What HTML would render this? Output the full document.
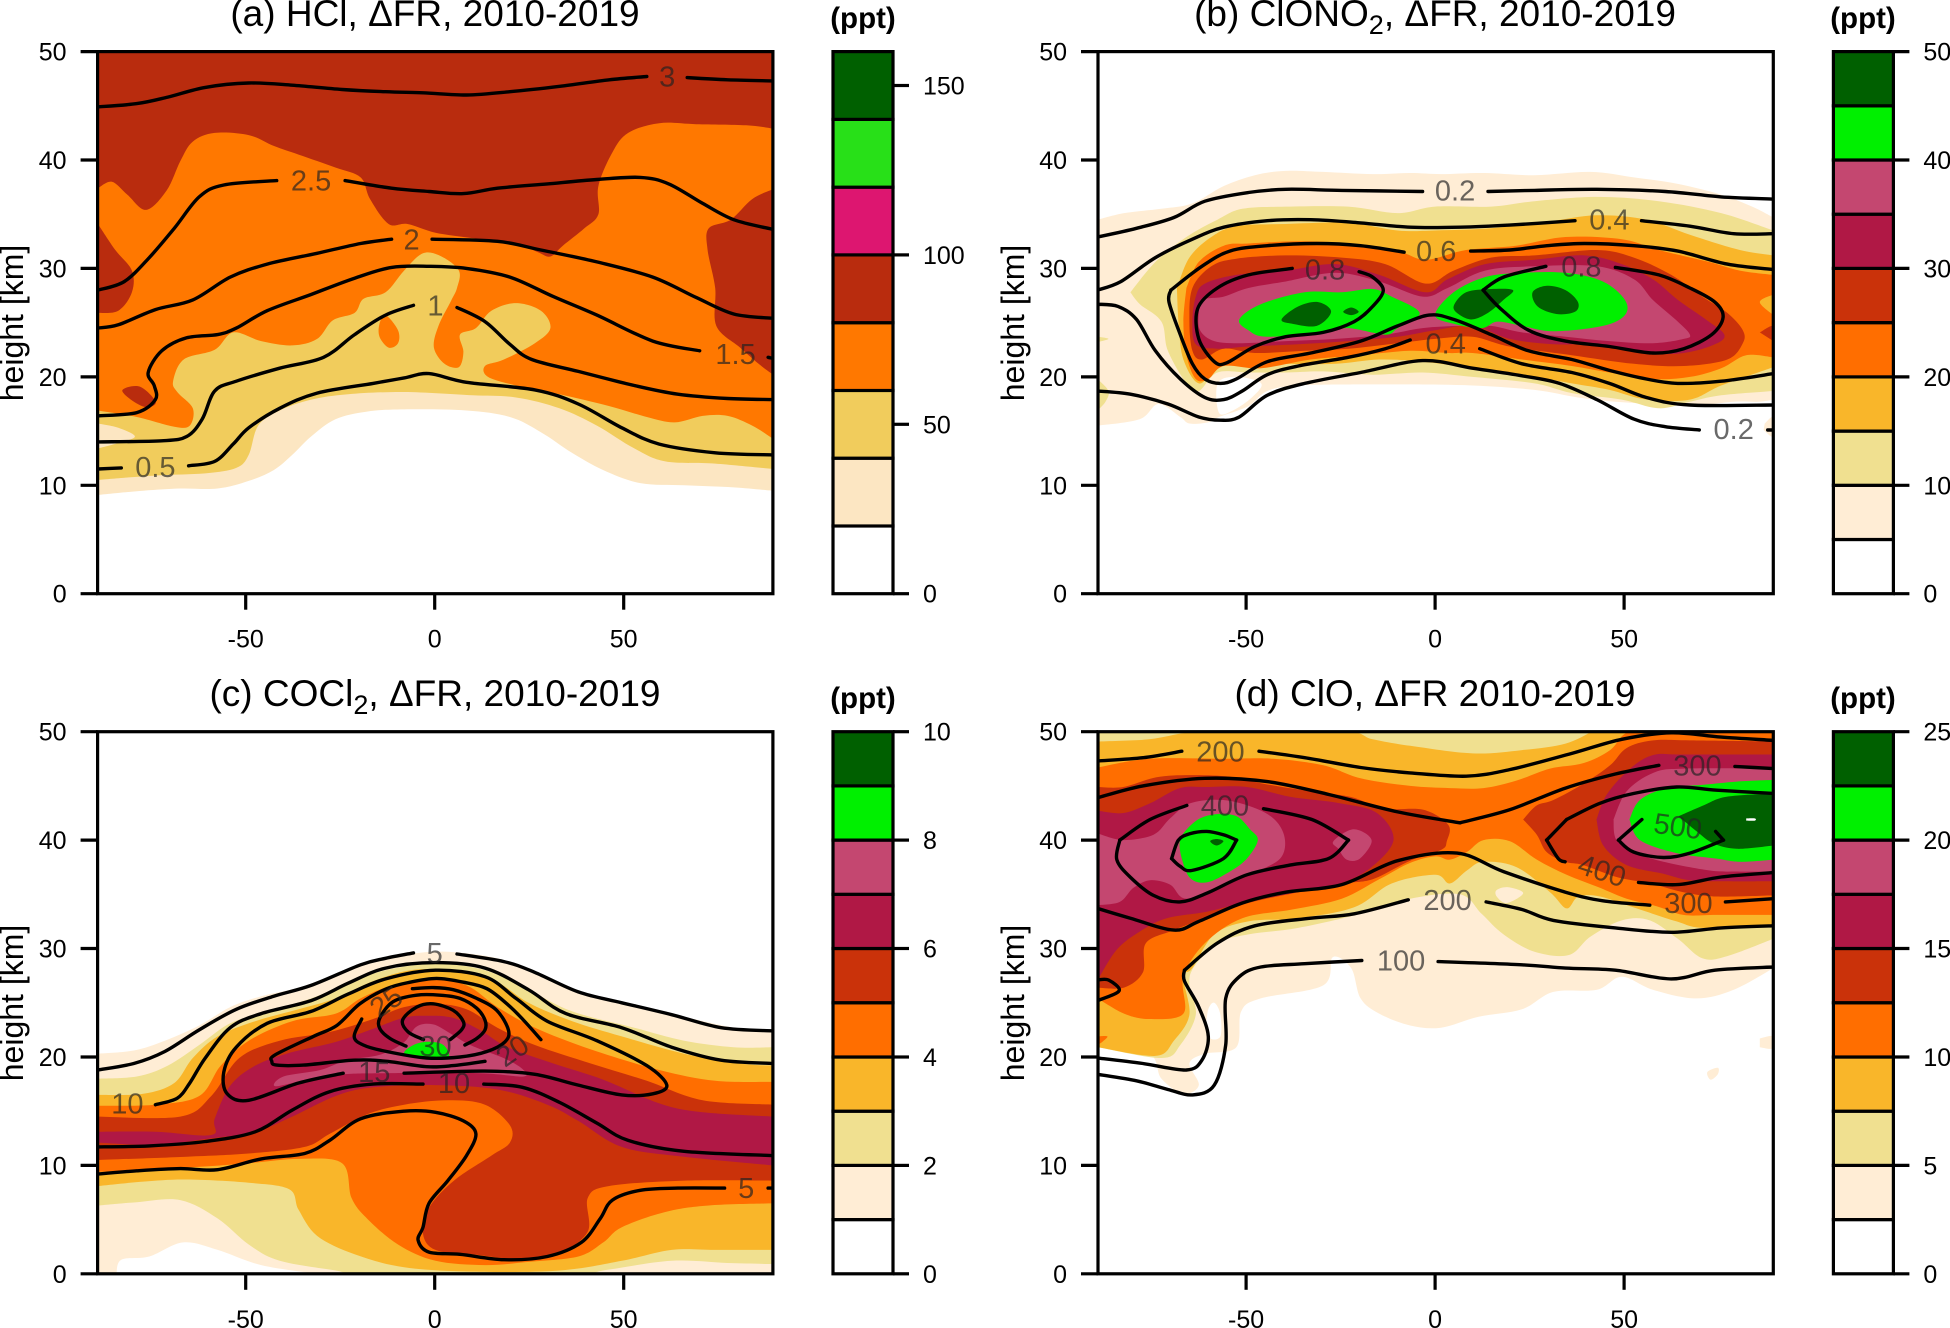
<!DOCTYPE html>
<html lang="en">
<head>
<meta charset="utf-8">
<title>Zonal mean cross-sections of HCl, ClONO2, COCl2 and ClO</title>
<style>
html,body{margin:0;padding:0;background:#fff;width:1950px;height:1328px;overflow:hidden}
svg{display:block}
text{font-family:"Liberation Sans",sans-serif;fill:#000}
.title{font-size:37px;text-anchor:middle}
.sub{font-size:27px}
.unit{font-size:29.5px;font-weight:bold;text-anchor:middle}
.ylab{font-size:32px;text-anchor:middle}
.tick{font-size:25px}
.clabel{font-size:29px;text-anchor:middle;dominant-baseline:central;fill:#222;fill-opacity:.68}
</style>
</head>
<body>
<svg id="chart" xmlns="http://www.w3.org/2000/svg" width="1950" height="1328" viewBox="0 0 1950 1328">
<rect width="1950" height="1328" fill="#fff"/>
<text class="title" x="435" y="26">(a) HCl, ΔFR, 2010-2019</text>
<text class="title" x="1435" y="26">(b) ClONO<tspan class="sub" dy="8">2</tspan><tspan dy="-8">, ΔFR, 2010-2019</tspan></text>
<text class="title" x="435" y="706">(c) COCl<tspan class="sub" dy="8">2</tspan><tspan dy="-8">, ΔFR, 2010-2019</tspan></text>
<text class="title" x="1435" y="706">(d) ClO, ΔFR 2010-2019</text>
<text class="unit" x="863" y="28">(ppt)</text>
<text class="unit" x="1863" y="28">(ppt)</text>
<text class="unit" x="863" y="708">(ppt)</text>
<text class="unit" x="1863" y="708">(ppt)</text>
<text class="ylab" transform="translate(23,323) rotate(-90)">height [km]</text>
<text class="ylab" transform="translate(1024,323) rotate(-90)">height [km]</text>
<text class="ylab" transform="translate(23,1003) rotate(-90)">height [km]</text>
<text class="ylab" transform="translate(1024,1003) rotate(-90)">height [km]</text>
</svg>
<script>
const latTicks=[-50,0,50];
const heightTicks=[0,10,20,30,40,50];

const levelsA=[0,20,40,60,80,100,120,140,160];
const levelsB=[0,5,10,15,20,25,30,35,40,45,50];
const levelsC=[0,1,2,3,4,5,6,7,8,9,10];
const levelsD=[0,2.5,5,7.5,10,12.5,15,17.5,20,22.5,25];
const colorTicksA=[0,50,100,150];
const colorTicksB=[0,10,20,30,40,50];
const colorTicksC=[0,2,4,6,8,10];
const colorTicksD=[0,5,10,15,20,25];
const coloursA=['#ffffff','#fce6c2','#f1cc5c','#ff7800','#b92c0e','#dd1670','#28e018','#006000'];
const coloursB=['#ffffff','#ffedd5','#f0e090','#f9b62a','#ff6e00','#ca320a','#b01845','#c44770','#00f000','#006000'];

/* ---------- Panel (a) HCl : [latitude, height] ---------- */
const aCream=[[-89.1,9.1],[-77.1,9.5],[-67.3,9.7],[-57.4,9.7],[-49.2,10.4],[-42.6,11.4],[-37.7,12.8],[-32.7,14.5],[-26.2,16.1],[-17.9,16.8],[-8.1,17],[8.4,16.9],[19.9,16.3],[28.1,14.9],[36.3,13],[44.6,11.4],[54.4,10.2],[66,10],[79.1,9.8],[89.5,9.5]];
const aYellow=[[-89.1,10.5],[-73.8,10.9],[-60.7,11.1],[-52.5,11.6],[-49.2,12.8],[-46.7,15.5],[-41,16.9],[-32.7,17.9],[-22.9,18.4],[-8.1,18.6],[10,18.3],[21.5,18.1],[33,17.1],[42.9,15.5],[52.8,13.4],[61,12.2],[74.2,12],[89.5,11.5]];
const aCreamBlob=[[-89.1,15.7],[-83.7,15.3],[-79.3,14.5],[-83.7,13.9],[-89.1,13.4]];
const aOrange=[[-89.1,16.9],[-78.8,16.3],[-68.9,15.4],[-64.8,15.5],[-64,17.1],[-68.1,18.6],[-69.2,19.6],[-66.4,21.6],[-58.2,22.5],[-53.3,24.1],[-45.9,23.3],[-37.7,22.9],[-31.1,23.5],[-27,25.2],[-21.2,25.9],[-18.8,27.2],[-13,27.8],[-8.1,29.8],[-3.1,31.4],[1.8,31.1],[6.4,29.8],[5.9,28.2],[4.3,27],[1,24.7],[-0.2,22.7],[2.6,21.2],[6.4,20.9],[7.6,22.3],[6.7,23.9],[10.9,24.5],[15,26.1],[21.5,26.8],[28.1,26.1],[30.6,24.5],[26.5,23.1],[18.3,21.6],[13.3,21],[14.1,20],[21.5,19.2],[33,18.4],[46.2,17.3],[56.1,16.3],[63.5,15.8],[70.9,16.4],[77.5,16.4],[84,15.5],[89.5,14.3]];
const aOrangePocket=[[-13,25.7],[-9.7,24.3],[-9.7,23.1],[-12.2,22.7],[-14.6,23.7],[-14.6,24.9]];
const aRedTop=[[-89.1,37.4],[-85.4,38],[-81.3,36.8],[-76.3,35.4],[-70.9,37.2],[-67.3,39.9],[-64,41.7],[-58.2,42.5],[-49.2,42.3],[-42.6,41.3],[-36,40.5],[-26.2,39.3],[-19.6,38.4],[-17.1,36.4],[-12.2,34.1],[-7.2,34.1],[0.2,33.3],[10,32.8],[21.5,32.3],[27.3,31.5],[30.6,31.1],[33.9,32.1],[39.6,33.7],[43.3,35],[43.3,37.6],[47,40.7],[51.2,42.5],[59.4,43.4],[69.2,43.3],[82.4,43.2],[89.5,42.9]];
const aRedRight=[[89.5,37.3],[84,36.4],[78.3,34.5],[72.5,33.7],[72.2,31.7],[74.2,28.2],[74.5,24.7],[80.8,22.7],[85.7,21.2],[89.5,20.2]];
const aRedLeft=[[-89.1,34.1],[-84.5,31.7],[-80.1,29.8],[-80.1,27.8],[-83.7,26.1],[-89.1,25.9]];
const aRedBlob=[[-82.6,18.8],[-78,19.1],[-73.8,17.7],[-76.3,17.2],[-80.4,17.9]];

const aLine3=[[[-89.1,44.9],[-78.8,45.2],[-70.6,45.8],[-60.7,46.7],[-49.2,47.1],[-37.7,46.9],[-24.5,46.5],[-13,46.3],[-3.1,46.2],[8.4,46],[19.9,46.3],[33.1,46.8],[46.2,47.4],[56.1,47.7]],[[66.8,47.6],[77.5,47.4],[89.5,47.3]]];
const aLine25=[[[-89.1,28],[-82.1,28.8],[-75.5,31],[-68.9,33.7],[-62.3,36.6],[-55.8,37.7],[-41.8,38.1]],[[-23.7,38.1],[-11.4,37.4],[-1.5,37.1],[7.6,36.9],[16.6,37.4],[29.8,37.8],[42.9,38.2],[54.4,38.4],[61.9,37.8],[70.9,36],[79.1,34.5],[89.5,33.6]]];
const aLine2=[[[-89.1,24.5],[-83.7,24.8],[-73.9,26.2],[-64,27.1],[-54.1,29.2],[-44.3,30.4],[-31.1,31.4],[-19.6,32.3],[-11.4,32.7]],[[-0.7,32.7],[16.6,32.5],[28.1,31.7],[42.9,30.6],[57.7,29.2],[69.3,27.3],[79.1,25.8],[89.5,25.4]]];
const aLine15=[[[-89.1,16.4],[-78.8,16.7],[-73.9,17.9],[-74.2,19.2],[-75.8,20.4],[-72.2,22.4],[-65.6,23.6],[-57.4,23.9],[-52.5,24.5],[-44.3,26.1],[-32.7,27.6],[-21.2,29.1],[-11.4,30.1],[-1.5,30.2],[8.4,30],[19.9,29.2],[31.4,27.4],[42.9,25.7],[57.7,23.3],[70.1,22.4]],[[88.2,21.8],[89.5,21.7]]];
const aLine1=[[[-89.1,14],[-72.2,14.1],[-65.6,14.5],[-61.5,16.1],[-58.2,18.7],[-52.5,19.6],[-41,20.8],[-29.4,21.8],[-21.2,23.9],[-13,25.7],[-5.6,26.6]],[[5.9,26.4],[13.3,25.1],[19.9,23],[25.7,21.6],[38,20.5],[52.8,19.2],[64.3,18.4],[77.5,18],[89.5,17.9]]];
const aLine05=[[[-89.1,11.5],[-82.9,11.6]],[[-65.1,11.8],[-58.2,12.2],[-53.3,13.8],[-49.2,15.3],[-41,17.1],[-31.1,18.5],[-16.3,19.4],[-8.1,19.9],[-1.5,20.3],[8.4,19.5],[26.5,18.8],[38,17.5],[49.5,15.3],[59.4,13.8],[74.2,13],[89.5,12.8]]];
const aContourText=['3','2.5','2','1.5','1','0.5'];
const aContourLat=[61.5,-32.7,-6.1,79.6,0.2,-73.9];
const aContourHeight=[47.6,38,32.6,22,26.5,11.6];

/* ---------- Panel (b) ClONO2 ---------- */
const bCreamUp=[[-89.3,34.5],[-82.3,35.1],[-72.4,35.5],[-64.2,36],[-55.9,37.6],[-47.7,38.6],[-39.5,39],[-29.6,38.9],[-16.5,38.7],[-6.6,38.8],[1.6,38.7],[13.2,38.8],[26.3,38.6],[41.1,38.9],[52.6,38.4],[64.2,37.8],[75.7,36.8],[83.9,35.7],[89.5,34.7]];
const bCreamLow=[[-89.3,15.5],[-78.1,16.1],[-73.2,17.5],[-67.4,16.3],[-65,15.7],[-60,15.8],[-57.2,16.3],[-49.4,17.3],[-44.4,18.7],[-36.2,19.2],[-19.7,19.3],[-6.6,19.3],[9.9,19.2],[26.3,18.8],[37.8,18.1],[47.7,17.7],[57.6,17.5],[67.4,17.3],[79,17.7],[85.5,17.7],[89.5,17.9]];
const bCreamCorner=[[87.2,15.7],[89.5,16.3],[89.5,14.5],[86.9,15.1]];
const bWhiteGap=[[-57.2,16.7],[-57.5,19.4],[-52.6,20],[-46,19.4],[-48.5,18.1],[-53.5,16.9]];
const bKhakiUp=[[-80.6,27.8],[-74,30.6],[-65.8,32.9],[-57.6,34.5],[-51,35.5],[-39.5,35.7],[-23,35.7],[-9.9,35.1],[0,35.7],[14.8,35.7],[26.3,36.2],[42.8,36.6],[59.2,36.2],[75.7,35.1],[89.5,33.5]];
const bKhakiLow=[[-80.6,27.8],[-78.1,26.7],[-72.4,25.1],[-70.7,22.4],[-65.8,19.4],[-62.5,18.7],[-57.6,20.4],[-49.4,20.4],[-39.5,20.4],[-29.6,20.5],[-16.5,20.2],[-3.3,20.4],[9.9,20],[26.3,19.4],[36.2,18.5],[49.4,17.9],[59.2,17.1],[67.4,17.7],[75.7,18.3],[89.5,18.7]];
const bKhakiLeft=[[-89.3,19.8],[-86.4,18.7],[-87.2,17.7],[-89.3,16.9]];
const bKhakiDot=[[-89.3,23.7],[-86.4,23.5],[-89.3,23.2]];
const bAmberUp=[[-68.3,28.2],[-65,31],[-59.2,32.9],[-52.6,33.9],[-39.5,34.1],[-23,34.2],[-9.9,33.5],[0,33.5],[14.8,33.7],[29.6,34.3],[42.8,34.9],[55.9,34.5],[67.4,33.1],[80.6,31.7],[89.5,31.2]];
const bAmberLow=[[-68.3,28.2],[-67.8,24.7],[-66.6,21.6],[-62.5,19.4],[-57.6,20.8],[-51,21.4],[-39.5,21.2],[-26.3,21.2],[-14.8,21.6],[-3.3,21.4],[9.9,20.8],[23,20.2],[36.2,19.4],[46.1,18.8],[55.9,17.9],[67.4,17.9],[75.7,19.2],[89.5,20.9]];
const bOrangeUp=[[-65.8,28.2],[-62.5,30.6],[-55.9,32.1],[-49.4,32.3],[-36.2,32.5],[-23,32.3],[-9.9,31.6],[-2.5,30.8],[8.2,31.7],[21.4,32.1],[34.5,32.9],[49.4,32.7],[59.2,31.7],[72.4,30.6],[80.6,29.8],[89.5,29.4]];
const bOrangeLow=[[-65.8,28.2],[-66.6,25.1],[-65.8,22],[-63.3,19.8],[-60,19.8],[-55.9,21],[-46,20.8],[-32.9,21.6],[-19.7,22],[-6.6,22.4],[3.3,22.2],[9.9,22.2],[23,21.6],[36.2,21],[46.1,20.4],[57.6,19.8],[67.4,20],[75.7,20.8],[82.3,22],[89.5,21.8]];
const bAmberRight=[[89.5,27.6],[85.9,26.9],[89.5,25.7]];
const bRustRight=[[85.9,24.1],[89.5,24.7],[89.5,23.3]];
const bRust=[[-59.2,30.2],[-52.6,30.9],[-39.5,31.2],[-24.7,31],[-13.2,30.4],[-2.5,28.6],[4.9,29.8],[14.8,31],[26.3,31.2],[42.8,31.7],[52.6,31],[62.5,29.4],[70.7,27.4],[77.3,25.9],[81.4,24.3],[81.4,23.1],[77.3,21.6],[65.8,21],[52.6,21.2],[36.2,22],[19.7,22.8],[9.9,23.7],[0,23.5],[-9.9,23.1],[-23,22.6],[-34.5,22.4],[-47.7,22.2],[-55.9,22.6],[-61.7,21.6],[-64.2,22.4],[-65,25.1],[-64.2,28.2]];
const bCrimson=[[-60.9,28.6],[-52.6,29.4],[-39.5,29.8],[-26.3,30.4],[-14.8,29.4],[-2.5,27.8],[3.3,29],[13.2,30.4],[26.3,30.8],[39.5,31.2],[49.4,30.4],[57.6,29],[64.2,27.1],[71.6,25.3],[76.5,23.9],[74,23],[65.8,22.2],[55.9,22.2],[42.8,23],[31.3,23],[19.7,23.5],[9.9,24.7],[0,24.3],[-9.9,23.7],[-23,23.3],[-36.2,23],[-49.4,22.8],[-57.6,22.6],[-63.3,23],[-64.2,25.1],[-63.3,27.4]];
const bPink=[[-61.7,27.1],[-55.9,27.4],[-49.4,28.2],[-39.5,28.8],[-26.3,29.6],[-14.8,28.8],[-3.3,27.4],[3.3,28.2],[13.2,29.8],[26.3,30.2],[42.8,30.2],[52.6,29],[57.6,27.1],[64.2,25.1],[67.4,23.9],[65.8,23.5],[57.6,23.1],[46.1,23.3],[34.5,23.7],[23,24.1],[14.8,24.7],[6.6,24.7],[-3.3,24.5],[-13.2,23.9],[-26.3,23.5],[-39.5,23.3],[-51,23.1],[-58.4,23.3],[-62.2,24.3],[-62.5,25.9]];
const bGreenLeft=[[-51.8,25.3],[-46.1,26.7],[-34.5,27.8],[-24.7,27.8],[-16.5,28.1],[-11.5,27.4],[-4.1,25.9],[-9.9,24.5],[-13.2,23.9],[-23,24.5],[-29.6,24.1],[-44.4,23.7],[-49.4,24.3]];
const bGreenRight=[[0,25.7],[4.9,27.8],[13.2,29.2],[23,29.6],[34.5,29.6],[44.4,28.8],[50.2,27.1],[50.2,25.7],[44.4,24.7],[31.3,24.2],[23,24.7],[16.5,25.1],[12.3,24.5],[4.9,24.9]];
const bDarkLeft=[[-40.6,25.3],[-36.2,26.5],[-30.9,26.9],[-27.5,26],[-31.3,24.7],[-37.8,24.9]];
const bDarkTiny=[[-24.3,26],[-22.2,26.4],[-20.2,26],[-22.2,25.7]];
const bDarkMid=[[4.9,26.5],[8.2,27.8],[14.8,28.1],[20.6,28],[18.1,27.1],[14,25.9],[9.9,25.3],[6.6,25.7]];
const bDarkRight=[[25.8,27.8],[29.6,28.4],[34.5,28],[37.8,26.9],[37,26],[32.1,25.8],[27.1,26.5]];

const bLine02Top=[[[-89.3,32.9],[-79,33.7],[-69.1,34.7],[-60.9,36.2],[-49.4,37],[-39.5,37.3],[-24.7,37.2],[-3.3,37.1]],[[14,37.1],[26.3,37.2],[42.8,37.3],[60.9,37.1],[75.7,36.6],[89.5,36.4]]];
const bLine04Top=[[[-89.3,28],[-83.1,28.8],[-74,31],[-64.2,32.7],[-55.9,33.8],[-44.4,34.4],[-32.9,34.5],[-19.7,34.2],[-6.6,33.8],[6.6,33.8],[19.7,34],[37,34.4]],[[54.6,34.4],[67.4,33.9],[79,33.2],[89.5,33.2]]];
const bLine06=[[[-8.2,31.5],[-19.7,32.1],[-31.3,32.3],[-44.4,32.1],[-54.3,31.6],[-61.7,30.2],[-69.9,28]],[[-69.9,28],[-70.4,26.9],[-67.4,23.9],[-64.2,21.2],[-60.9,19.8],[-56.8,19.4],[-52.6,19.8],[-44.4,21.4],[-32.9,22.2],[-19.7,23.3],[-9.9,24.7],[-1.6,25.7],[4.9,25.3],[14.8,23.9],[24.7,22.4],[36.2,21.6],[46.1,20.6],[55.9,19.8],[64.2,19.4],[75.7,19.6],[89.5,20.3]],[[9.4,31.6],[19.7,31.7],[29.6,32.1],[39.5,32.3],[52.6,32.1],[64.2,31.6],[77.3,30.4],[89.5,29.9]]];
const bLine04Low=[[[-89.3,26.7],[-83.9,26.5],[-79,25.3],[-74,22.4],[-67.4,19.8],[-60.9,18.1],[-55.9,17.9],[-51,18.7],[-44.4,20.2],[-36.2,21],[-23,21.8],[-13.2,22.6],[-6.6,23.4]],[[11.8,22.6],[23,21.2],[36.2,20.4],[46.1,19.4],[55.9,18.1],[67.4,17.4],[89.5,17.4]]];
const bLine02Low=[[[-89.3,18.7],[-80.6,18.4],[-70.7,17.5],[-62.5,16.3],[-56.8,16],[-51.8,16.3],[-44.4,18.3],[-34.5,19.4],[-19.7,20.4],[-3.3,21.5],[9.9,20.8],[23,20.1],[32.9,19.4],[42.8,17.9],[52.6,16.1],[60.9,15.4],[69.9,15.1]],[[88,15.1],[89.5,15.1]]];
const bLine08Left=[[[-37.8,30],[-49.4,29.4],[-57.6,28.2],[-62.8,26.3],[-62.5,23.5],[-58.4,21.4],[-55.1,21.3],[-47.7,22.8],[-39.5,23.7],[-29.6,24.1],[-21.4,25.1],[-16.5,26.5],[-13.7,28],[-16.5,29.2],[-20.1,29.7]]];
const bLine08Right=[[[29.3,30.2],[18.1,29.2],[12.7,28]],[[12.7,28],[17.3,26.3],[24.7,24.3],[34.5,23.3],[46.1,22.8],[57.6,22.2],[65.8,22.6],[73.2,23.9],[76.2,25.5],[74,26.9],[67.4,28.2],[59.2,29.4],[47.7,30.1]]];
const bContourText=['0.2','0.4','0.6','0.4','0.2','0.8','0.8'];
const bContourLat=[5.3,46.1,0.3,2.8,79,-29.1,38.7];
const bContourHeight=[37.1,34.4,31.5,23,15.1,29.8,30.1];

/* ---------- Panel (c) COCl2 ---------- */
const cCream=[[-89.1,20.3],[-79.6,20.6],[-71.4,21.5],[-62.3,22.9],[-54.1,24.6],[-45.9,25.6],[-36,26.4],[-26.2,27.6],[-16.3,28.7],[-6.4,29.5],[3.5,29.7],[16.6,29.1],[26.5,27.8],[36.4,26.2],[49.5,25],[66,23.7],[79.1,22.7],[89.5,22.3]];
const cWhitePatch=[[-84.2,0],[-82.9,1.3],[-75.5,1.6],[-66.5,2.9],[-57.4,2.2],[-45.9,0.8],[-31.1,0]];
const cKhakiUp=[[-89.1,18],[-78.8,18.2],[-70.6,19.2],[-62.3,21.1],[-54.1,23.1],[-44.3,24.2],[-32.7,25.4],[-22.9,26.8],[-13,28],[0.2,28.6],[13.3,28],[24.8,26.2],[36.4,24.2],[52.8,22.7],[66,21.5],[79.1,20.9],[89.5,20.9]];
const cKhakiLow=[[-89.1,6.3],[-78.8,6.6],[-67.3,6.8],[-57.4,5.1],[-49.2,2.7],[-41,1.2],[-26.2,0.3],[-16.3,-0.2],[33,-0.2],[46.2,0.4],[62.7,1.2],[77.5,1],[89.5,0.9]];
const cAmberUp=[[-89.1,16.5],[-77.1,16.6],[-68.9,17.6],[-64,19.9],[-57.4,21.9],[-47.5,23.3],[-36,24.4],[-26.2,25.4],[-16.3,27],[-6.4,28],[3.5,28],[15,27.2],[24.8,25],[36.4,23.3],[49.5,21.9],[66,20.3],[80.8,19.4],[89.5,19.2]];
const cAmberLow=[[-89.1,8.1],[-77.1,8.5],[-65.6,8.7],[-49.2,8.4],[-38.5,7.8],[-36,5.9],[-31.1,3.5],[-21.2,1.8],[-8.1,0.6],[10,0.2],[33.1,0.3],[49.5,1.2],[62.7,2.2],[74.2,2.2],[89.5,2.2]];
const cOrangeUp=[[-89.1,15.5],[-73.9,15.6],[-62.3,16.4],[-56.6,19.2],[-49.2,21.5],[-37.7,23.3],[-26.2,24],[-19.6,25.4],[-11.4,26.6],[-1.5,27.2],[8.4,26.6],[16.6,24.6],[26.5,22.7],[41.3,20.7],[59.4,18.8],[74.2,17.8],[89.5,17.7]];
const cOrangeLow=[[-89.1,9.4],[-65.6,9.8],[-49.2,10.2],[-36,10.6],[-24.5,10.2],[-22,7],[-17.9,5.1],[-9.7,2.7],[0.2,1.2],[13.3,0.8],[24.8,1.1],[38,1.6],[44.6,2.9],[49.5,4.3],[61,5.7],[72.5,6.3],[89.5,6.5]];
const cRustUp=[[-89.1,14.5],[-67.3,14.5],[-59.1,16.4],[-51.7,19.9],[-41,21.5],[-27.8,22.3],[-16.3,23.5],[-8.1,24.6],[0.2,24.9],[8.4,24.4],[16.6,22.7],[26.5,21.1],[41.3,19.4],[56.1,17.8],[70.9,16],[89.5,15.6]];
const cRustLow=[[-89.1,10.5],[-65.6,10.8],[-49.2,11.1],[-34.4,11.7],[-27.8,12.9],[-17.9,14.7],[-8.1,15.6],[3.5,16],[13.3,15.6],[19.9,13.7],[19.9,12.1],[15,10.9],[5.1,8.6],[-1.5,6.1],[-3.1,3.7],[0.2,2.2],[10,1.8],[21.5,1.4],[33.1,2],[40.5,3.9],[40.5,7],[46.2,8.1],[66,8.6],[89.5,8.6]];
const cCrimsonUp=[[-89.1,13.1],[-73.9,13.1],[-59.1,12.8],[-58.2,14.3],[-54.2,17.3],[-48,19.1],[-39.2,20.3],[-26,21.4],[-17.1,22.5],[-8.3,23.6],[-2.1,23.8],[4.9,23.6],[11.9,22.5],[19.1,20.95],[31.4,19.4],[44.6,17.9],[59.6,15.7],[70.9,14.9],[89.5,14.5]];
const cCrimsonLow=[[-89.1,12.1],[-73.9,11.9],[-59.1,12.5],[-47.5,13.1],[-37.7,14.5],[-26.2,16.4],[-16.3,17.2],[0.2,17.4],[16.6,17],[29.8,15.6],[38,14.1],[49.5,11.7],[66,10.8],[89.5,10]];
const cPink=[[-42.2,17.3],[-40,18.2],[-30.3,18.8],[-23.3,19.7],[-14.5,20.2],[-8.3,21.3],[-4.8,22.8],[-0.4,23],[4,22.2],[9.4,21.1],[18.2,19.9],[23,18.95],[23.5,18.2],[12,18.5],[-12.7,18.5],[-24.2,18.4],[-33.9,17.9]];
const cGreen=[[-8,20.3],[-5.6,21.1],[-1.7,21.4],[2.3,21.1],[3.6,20],[-2.1,19.9]];

const cLine5Top=[[[-89.1,18.8],[-79.6,19.4],[-71.4,20.5],[-62.3,22.5],[-52.5,24.4],[-42.6,25.6],[-32.7,26.6],[-19.6,28.5],[-13,29.1],[-5.6,29.6]],[[5.9,29.5],[18.3,28.8],[26.5,27.8],[38,26],[49.5,25],[62.7,23.9],[75.8,22.7],[89.5,22.4]]];
const cLine10Top=[[[-73.9,15.6],[-68.1,16.2],[-64.8,17.6],[-60.7,19.9],[-54.1,22.7],[-45.9,24],[-32.7,25.2],[-22.9,26.8],[-13,28.2],[0.2,28.7],[13.3,28.2],[24.8,26.2],[34.7,24],[49.5,22.7],[62.7,20.9],[75.8,19.7],[89.5,19.4]]];
const cLine15=[[[-24.2,18.5],[-36,17.6],[-49.2,16],[-54.9,16.6],[-55.8,18.6],[-52.5,20.9],[-44.3,23.1],[-32.7,24.2],[-22.9,25.8],[-13,27.2],[0.2,28],[13.3,27.4],[21.5,25.4],[29.8,23.3],[42.9,21.5],[56.1,19.2],[61.4,17.4],[57.7,16.6],[49.5,16.5],[38,17.4],[26.5,18.4],[13.3,18.7],[-8.1,18.5]]];
const cLine20=[[[13.3,19.6],[4.9,19.2],[-2.1,19.1],[-12.7,19.6],[-21.5,19.7],[-34.7,19.25],[-41.8,19.25],[-43.1,19.6],[-42.2,20.2],[-32.1,21.9],[-25.9,22.9],[-19.8,24.9],[-12.7,26.3],[-6.5,26.9],[0.5,27.25],[7.6,26.9],[13.8,26.3],[19.1,24.9],[23.5,23.4],[28.1,21.6]]];
const cLine25=[[[-19.3,23.5],[-21.3,21.9],[-18.9,21.1],[-12.7,20.5],[-2.1,19.9],[6.7,20],[13.8,20.5],[18.6,21.4],[19.5,22.5],[16.4,24.3],[11.1,25.4],[4.9,26.2],[-0.4,26.4],[-5.9,26.3]]];
const cLine30=[[[-7.6,21],[-11.8,21.7],[-14.5,22.6],[-14.5,23.6],[-11,25.1],[-4.8,25.7],[1.4,25.7],[6.7,25.4],[11.1,24.5],[13.3,23.4],[13.3,22.5],[11.1,21.7],[8,21.1]]];
const cLine35=[[[-3,21.6],[-7,22.3],[-8.5,23.4],[-4.8,24.6],[-0.4,24.9],[4.9,24.3],[7.6,23.25],[7.1,22.5],[4.1,21.6]]];
const cLine10Low=[[[-89.1,11.7],[-75.5,11.8],[-60.7,12.2],[-47.5,13.1],[-37.7,15.1],[-27.8,16.8],[-16.3,17.5],[-3.1,17.5]],[[13,17.5],[23.2,17.2],[33.1,15.8],[42.9,13.9],[51.2,12.3],[66,11.3],[89.5,10.9]]];
const cLine5Low=[[[-89.1,9.2],[-78.8,9.5],[-67.3,9.7],[-57.4,9.6],[-45.9,10.6],[-34.4,11.1],[-27.8,12.3],[-19.6,14.3],[-8.1,15],[0.2,14.9],[7.6,14.1],[10.9,12.9],[8.4,10.9],[3.5,8.6],[-1.5,6.5],[-3.1,4.3],[-4.4,3.1],[-1.5,2],[6.7,1.8],[18.3,1.3],[29.8,1.6],[38.8,2.9],[43.8,5.1],[47,6.8],[54.4,7.7],[64.3,7.9],[76.7,7.9]],[[88.2,7.9],[89.5,7.9]]];
const cContourText=['5','10','25','30','20','15','10','5'];
const cContourLat=[0,-81.3,-12.7,0.2,20.7,-16,5.1,82.4];
const cContourHeight=[29.5,15.6,25,20.9,20.5,18.5,17.5,7.8];
const cContourTilt=[0,0,-35,0,-35,0,0,0];

/* ---------- Panel (d) ClO ---------- */
const dCream=[[-89.3,20.9],[-75.7,20.3],[-72.4,18],[-66.6,16.6],[-62.5,17.4],[-65,19.4],[-60.9,20.3],[-52.6,20.9],[-51.3,24.2],[-46.1,25.4],[-29.6,26.6],[-27.1,29.2],[-22.2,28.2],[-19.7,25.4],[-14.8,24],[-6.6,22.9],[1.6,22.7],[11.5,23.7],[23,24.4],[31.3,26],[42.8,26.2],[49.4,27.4],[57.6,26.2],[69.1,25.4],[79,26.2],[89.5,28.2]];
const dCreamBlobRight=[[85.9,21.7],[89.5,21.9],[89.5,20.8],[85.9,20.9]];
const dCreamBlobMid=[[72,18.6],[74.8,19],[74.8,18.4],[72.9,17.9]];
const dWhiteHole=[[-60.5,22.7],[-60,24.4],[-58.4,25],[-56.8,23.9],[-56.8,21.9],[-59.5,21.7]];
const dKhaki=[[-89.3,20.9],[-72.4,19.9],[-67.4,21.1],[-63.3,23.9],[-65,26.6],[-63.8,28.3],[-57.6,30.5],[-49.4,31.3],[-36.2,31.9],[-19.7,33.2],[-6.6,34.6],[6.6,35],[12.3,33.2],[18.1,31.3],[26.3,29.7],[35.4,29.4],[41.1,31.1],[49.4,32.6],[56.8,32.6],[64.2,30.9],[70.7,29.1],[77.3,29.3],[89.5,30.9]];
const dCreamNotch=[[16.3,35.4],[19.4,35.65],[23.3,35.1],[18.9,34.2],[16.3,34.8]];
const dAmber=[[-89.3,20.9],[-74,20.1],[-69.1,21.5],[-65,23.9],[-66.6,27.4],[-64.2,28.2],[-58.4,31.3],[-49.4,32.5],[-36.2,32.8],[-21.4,33.8],[-11.5,36],[0,36.8],[3.9,36],[8.4,37.2],[12.8,38],[21.6,37.5],[30.4,35.2],[34.8,33.7],[37.9,34.8],[43.6,34.8],[53.3,33.7],[63.9,32.5],[71,31.9],[89.6,32]];
const dKhakiTop=[[-89.3,49.1],[-75.7,49.3],[-65.8,49.9],[-55.9,50.1],[-24.7,50.1],[-16.5,49.3],[-6.6,48.7],[9.9,48],[23,48.3],[34.5,48.9],[41.9,50.1]];
const dOrangeUp=[[-89.3,46.7],[-75.7,47.5],[-55.9,47.5],[-42.8,47.5],[-29.6,46.9],[-19.7,45.7],[-6.6,45],[3.9,44.8],[12.8,44.8],[21.6,45.5],[30.4,46.6],[39.2,47.1],[46.3,48.3],[50.7,49.9],[59.2,50.4],[89.6,50.4]];
const dOrangeLow=[[-89.3,25.4],[-82.3,24],[-75.7,23.5],[-66.6,24],[-66.6,27.4],[-60.9,30.5],[-51,32.8],[-37.8,33.6],[-24.7,34.6],[-14.8,36.4],[-6.6,37.9],[0,38.5],[3.9,38.2],[8.4,38.9],[12.8,40],[19.8,39.9],[26.9,38.2],[34.8,36.8],[43.6,35.6],[50.7,34.6],[58.6,33.9],[65.7,33.1],[74.5,33.1],[89.6,33.1]];
const dOrangeSmall=[[-89.3,21.9],[-86.7,21.9],[-88,21.4],[-89.3,21.1]];
const dRustLeft=[[-89.3,44.9],[-82.5,44.9],[-73.7,45.8],[-64.8,46],[-54.3,45.85],[-45.4,45.2],[-34.9,44.6],[-22.5,44],[-13.7,42.9],[-3.1,42.8],[3.5,41.4],[3.1,39.9],[1.6,39.1],[-6.6,38.1],[-16.5,36.4],[-24.7,36],[-36.2,35.2],[-49.4,34.2],[-57.6,33.2],[-69.1,31.7],[-76.5,30.5],[-77.3,27.8],[-82.3,26.4],[-89.3,26.4]];
const dRustRightUp=[[23.3,41.9],[26.9,43.2],[31.3,43.7],[39.2,45.2],[46.3,46.9],[50.7,48.5],[57.7,49.2],[67.4,49.2],[89.6,49.1]];
const dRustRightLow=[[23.3,41.9],[26.9,40.5],[29.5,38.9],[34.4,38],[39.2,37.7],[48,36.6],[56.9,36],[65.7,35.2],[74.5,34.8],[89.6,34.9]];
const dOrangeWedge=[[-89.3,26.2],[-84.7,26.1],[-89.3,25.2]];
const dCrimsonLeft=[[-89.1,42.7],[-82.5,42.5],[-75.4,43.4],[-67.5,44.8],[-60.4,44.9],[-49.8,44.9],[-38.4,44],[-25.2,43.4],[-15.4,42.5],[-11,40],[-17.2,37.4],[-25.2,36],[-36.6,35.2],[-49.8,34.3],[-60.4,33.4],[-71,32.8],[-78,31.6],[-84.2,29.9],[-89.1,27.2]];
const dCrimsonRightUp=[[42.7,41.9],[45.4,44.2],[51.6,46.6],[57.7,47.85],[65.7,47.9],[89.6,47.9]];
const dCrimsonRightLow=[[42.7,41.9],[44.5,39.5],[50.7,37.7],[60.4,36.9],[67.4,36.3],[77.1,36.2],[89.6,36.2]];
const dPinkLeft=[[-89.1,40.6],[-82.5,40],[-74.5,40.5],[-70.1,42],[-64.8,43.4],[-56,43.7],[-47.2,42.9],[-41.9,41.7],[-39.7,40],[-41,38.3],[-47.2,37.1],[-55.1,36],[-65.7,34.6],[-70.1,35.9],[-75.4,36.3],[-79.8,35.6],[-83.4,34.3],[-89.1,34]];
const dPinkLobe=[[-26.9,39.9],[-21.6,41],[-16.8,40],[-19.9,38.3],[-23.4,38.2],[-25.6,39.2]];
const dPinkRightUp=[[47.2,41.9],[50.7,44.5],[57.7,46.2],[65.7,46.6],[89.6,46.6]];
const dPinkRightLow=[[47.2,41.9],[48,40],[53.3,38.8],[60.4,38],[72.7,37.2],[80.7,37.1],[89.6,37.1]];
const dGreenLeft=[[-65.7,41],[-62.2,42],[-57.8,42.4],[-52.5,42.2],[-49,41],[-46.9,40],[-49.8,38.3],[-54.3,37.1],[-60.4,36.1],[-64.8,36.5],[-67,38.3],[-67.5,39.9]];
const dGreenRightUp=[[51.4,41.9],[54.2,43.7],[61.3,44.8],[71,45.1],[79.8,45.4],[89.6,45.55]];
const dGreenRightLow=[[51.4,41.9],[54.2,40],[63.9,38.8],[74.5,38.3],[80.7,38],[89.6,38.2]];
const dDarkRightUp=[[64.4,42.2],[71,43.2],[77.1,44],[89.6,44.3]];
const dDarkRightLow=[[64.4,42.2],[69.2,40.8],[73.6,39.7],[79.8,39.2],[89.6,39.5]];
const dDarkTiny=[[-59.5,39.9],[-57.8,40.1],[-56,39.9],[-57.8,39.5]];
const dWhiteDash=[[82.3,42],[84.6,42],[84.6,41.8],[82.3,41.8]];

const dLine200Top=[[[-89.3,47.3],[-77.3,47.6],[-67,48.2]],[[-46.6,48.2],[-34.5,47.6],[-19.7,46.7],[-6.6,46.2],[8.2,45.9],[19.7,46.5],[36.2,48],[49.4,49.3],[62.5,49.9],[75.7,49.5],[89.5,49.2]]];
const dLine300Top=[[[-89.3,43.9],[-77.3,45],[-60.9,45.7],[-44.4,45.4],[-28,44.2],[-9.9,42.6],[6.6,41.6]],[[6.6,41.6],[19.7,42.8],[34.5,44.8],[47.7,46.1],[59.2,46.9]],[[79.3,46.8],[89.5,46.6]]];
const dLine400Left=[[[-22.9,40],[-32.6,41.9],[-45.4,42.9]],[[-65.7,43.2],[-75.4,41.9],[-83.4,40]],[[-83.4,40],[-84.2,38.2],[-80.7,36.6],[-74.5,34.9],[-67.5,34.3],[-60.4,35.1],[-49.8,36.8],[-38.4,37.7],[-28.2,38.3],[-22.9,40]]];
const dLine500Left=[[[-52.5,40],[-56,38.3],[-64.4,37.2],[-67.5,37.6],[-69.7,38.3]],[[-69.7,38.3],[-67.9,40],[-64.8,40.6],[-60.4,40.8],[-56,40.5],[-52.5,40]]];
const dLine300Low=[[[-89.3,33.7],[-80.6,32.8],[-69.1,31.7],[-62.5,32.5],[-51,34.2],[-39.5,35.2],[-24.7,35.9],[-9.9,38.1],[5.8,38.8],[18.1,37.1],[34.5,35.2],[44.4,34.4],[56.8,34]],[[76.8,34.3],[89.5,34.6]]];
const dLine400Right=[[[34.4,38],[32.6,38.3],[29.5,40]],[[29.5,40],[34.8,41.9]],[[34.8,41.9],[43.6,43.4],[52.5,44.3],[63.9,44.9],[74.5,44.6],[89.6,44.3]],[[53.8,36.1],[64.2,35.9],[75.7,36.6],[89.5,37]]];
const dLine500Right=[[[54.7,41.9],[48.5,40]],[[48.5,40],[52.5,38.9],[60.4,38.4],[67.4,38.8],[76.3,40]],[[76.3,40],[74.2,40.8]]];
const dLine200Low=[[[-89.3,19.9],[-77.3,19.4],[-65.8,18.8],[-61.7,19.7],[-60,21.9],[-62.5,24.6],[-66.3,27],[-66.3,28]],[[-66.3,28],[-57.6,30.5],[-47.7,32.1],[-32.9,32.8],[-21.4,33.2],[-7.1,34.5]],[[13.5,34.3],[23,33.6],[31.3,32.6],[47.7,31.9],[62.5,31.5],[75.7,31.9],[89.5,32.1]]];
const dLine100=[[[-89.3,18.4],[-79,17.8],[-70.7,17],[-64.2,16.5],[-58.4,17.4],[-55.4,21.1],[-55.4,25.4],[-51.8,27.4],[-46.1,28.3],[-34.5,28.6],[-19.4,28.9]],[[0.8,28.8],[23,28.5],[34.5,28.2],[47.7,28],[62.5,27.2],[74,28],[89.5,28.3]]];
const dLineWedge=[[[-89.3,27.1],[-86.4,27.1],[-83.6,26.1],[-89.3,25.2]]];
const dContourText=['200','300','400','500','300','400','200','100'];
const dContourLat=[-56.8,69.4,-55.6,64.2,67,44.1,3.3,-9];
const dContourHeight=[48.1,46.8,43.1,41.2,34.1,37.1,34.4,28.8];
const dContourTilt=[0,0,0,8,0,18,0,0];

const C=coloursB, A=coloursA;
const bandsA=[
 {n:'cream',fill:A[1],kind:'top',pts:aCream},{n:'yellow',fill:A[2],kind:'top',pts:aYellow},
 {n:'cream-blob',fill:A[1],kind:'edge',pts:aCreamBlob},{n:'orange',fill:A[3],kind:'top',pts:aOrange},
 {n:'orange-pocket',fill:A[3],kind:'loop',pts:aOrangePocket},{n:'red-top',fill:A[4],kind:'top',pts:aRedTop},
 {n:'red-right',fill:A[4],kind:'edge',pts:aRedRight},{n:'red-left',fill:A[4],kind:'edge',pts:aRedLeft},
 {n:'red-blob',fill:A[4],kind:'loop',pts:aRedBlob}];
const bandsB=[
 {n:'cream',fill:C[1],kind:'twin',up:bCreamUp,low:bCreamLow},{n:'cream-corner',fill:C[1],kind:'edge',pts:bCreamCorner},
 {n:'white-gap',fill:'#fff',kind:'loop',pts:bWhiteGap},{n:'khaki',fill:C[2],kind:'twin',up:bKhakiUp,low:bKhakiLow},
 {n:'khaki-left',fill:C[2],kind:'edge',pts:bKhakiLeft},{n:'khaki-dot',fill:C[2],kind:'edge',pts:bKhakiDot},
 {n:'amber',fill:C[3],kind:'twin',up:bAmberUp,low:bAmberLow},{n:'orange',fill:C[4],kind:'twin',up:bOrangeUp,low:bOrangeLow},
 {n:'amber-right',fill:C[3],kind:'edge',pts:bAmberRight},{n:'rust-right',fill:C[5],kind:'edge',pts:bRustRight},
 {n:'rust',fill:C[5],kind:'loop',pts:bRust},{n:'crimson',fill:C[6],kind:'loop',pts:bCrimson},{n:'pink',fill:C[7],kind:'loop',pts:bPink},
 {n:'green-left',fill:C[8],kind:'loop',pts:bGreenLeft},{n:'green-right',fill:C[8],kind:'loop',pts:bGreenRight},
 {n:'dark-left',fill:C[9],kind:'loop',pts:bDarkLeft},{n:'dark-tiny',fill:C[9],kind:'loop',pts:bDarkTiny},
 {n:'dark-mid',fill:C[9],kind:'loop',pts:bDarkMid},{n:'dark-right',fill:C[9],kind:'loop',pts:bDarkRight}];
const bandsC=[
 {n:'cream',fill:C[1],kind:'bottom',pts:cCream},{n:'white-patch',fill:'#fff',kind:'bottom',pts:cWhitePatch},
 {n:'khaki',fill:C[2],kind:'twin',up:cKhakiUp,low:cKhakiLow},{n:'amber',fill:C[3],kind:'twin',up:cAmberUp,low:cAmberLow},
 {n:'orange',fill:C[4],kind:'twin',up:cOrangeUp,low:cOrangeLow},{n:'rust',fill:C[5],kind:'twin',up:cRustUp,low:cRustLow},
 {n:'crimson',fill:C[6],kind:'twin',up:cCrimsonUp,low:cCrimsonLow},{n:'pink',fill:C[7],kind:'loop',pts:cPink},{n:'green',fill:C[8],kind:'loop',pts:cGreen}];
const bandsD=[
 {n:'cream',fill:C[1],kind:'top',pts:dCream},{n:'cream-blob-right',fill:C[1],kind:'edge',pts:dCreamBlobRight},
 {n:'cream-blob-mid',fill:C[1],kind:'loop',pts:dCreamBlobMid},{n:'khaki',fill:C[2],kind:'top',pts:dKhaki},
 {n:'cream-notch',fill:C[1],kind:'loop',pts:dCreamNotch},{n:'white-hole',fill:'#fff',kind:'loop',pts:dWhiteHole},
 {n:'amber',fill:C[3],kind:'top',pts:dAmber},{n:'khaki-top',fill:C[2],kind:'top',pts:dKhakiTop},
 {n:'orange',fill:C[4],kind:'twin',up:dOrangeUp,low:dOrangeLow},{n:'orange-small',fill:C[4],kind:'edge',pts:dOrangeSmall},
 {n:'rust-left',fill:C[5],kind:'edge',pts:dRustLeft},{n:'rust-right',fill:C[5],kind:'twin',up:dRustRightUp,low:dRustRightLow},
 {n:'orange-wedge',fill:C[4],kind:'edge',pts:dOrangeWedge},{n:'crimson-left',fill:C[6],kind:'edge',pts:dCrimsonLeft},
 {n:'crimson-right',fill:C[6],kind:'twin',up:dCrimsonRightUp,low:dCrimsonRightLow},{n:'pink-left',fill:C[7],kind:'edge',pts:dPinkLeft},
 {n:'pink-lobe',fill:C[7],kind:'loop',pts:dPinkLobe},{n:'pink-right',fill:C[7],kind:'twin',up:dPinkRightUp,low:dPinkRightLow},
 {n:'green-left',fill:C[8],kind:'loop',pts:dGreenLeft},{n:'green-right',fill:C[8],kind:'twin',up:dGreenRightUp,low:dGreenRightLow},
 {n:'dark-right',fill:C[9],kind:'twin',up:dDarkRightUp,low:dDarkRightLow},{n:'dark-tiny',fill:C[9],kind:'loop',pts:dDarkTiny},
 {n:'white-dash',fill:'#fff',kind:'edge',pts:dWhiteDash}];

const panels=[
 {id:'a',ox:0,bottom:593.7,bands:bandsA,levels:levelsA,colours:coloursA,colorTicks:colorTicksA,lines:[aLine3,aLine25,aLine2,aLine15,aLine1,aLine05],text:aContourText,lat:aContourLat,h:aContourHeight,tilt:[]},
 {id:'b',ox:1000.4,bottom:593.7,bands:bandsB,levels:levelsB,colours:coloursB,colorTicks:colorTicksB,lines:[bLine02Top,bLine04Top,bLine06,bLine04Low,bLine02Low,bLine08Left,bLine08Right],text:bContourText,lat:bContourLat,h:bContourHeight,tilt:[]},
 {id:'c',ox:0,bottom:1273.8,bands:bandsC,levels:levelsC,colours:coloursB,colorTicks:colorTicksC,lines:[cLine5Top,cLine10Top,cLine15,cLine20,cLine25,cLine30,cLine35,cLine10Low,cLine5Low],text:cContourText,lat:cContourLat,h:cContourHeight,tilt:cContourTilt},
 {id:'d',ox:1000.4,bottom:1273.8,bands:bandsD,levels:levelsD,colours:coloursB,colorTicks:colorTicksD,lines:[dLine200Top,dLine300Top,dLine400Left,dLine500Left,dLine300Low,dLine400Right,dLine500Right,dLine200Low,dLine100,dLineWedge],text:dContourText,lat:dContourLat,h:dContourHeight,tilt:dContourTilt}
];

const SVGNS='http://www.w3.org/2000/svg';
const svg=document.getElementById('chart');
function mk(tag,parent){const e=document.createElementNS(SVGNS,tag);parent.appendChild(e);return e;}
function f(v){return v.toFixed(1);}

function smoothOpen(q,move){
  let d=move?('M'+f(q[0][0])+' '+f(q[0][1])):('L'+f(q[0][0])+' '+f(q[0][1]));
  for(let i=0;i<q.length-1;i++){
    const p0=q[Math.max(i-1,0)],p1=q[i],p2=q[i+1],p3=q[Math.min(i+2,q.length-1)];
    d+='C'+f(p1[0]+(p2[0]-p0[0])/6)+' '+f(p1[1]+(p2[1]-p0[1])/6)+' '+f(p2[0]-(p3[0]-p1[0])/6)+' '+f(p2[1]-(p3[1]-p1[1])/6)+' '+f(p2[0])+' '+f(p2[1]);
  }
  return d;
}
function smoothLoop(q){
  const n=q.length;
  let d='M'+f(q[0][0])+' '+f(q[0][1]);
  for(let i=0;i<n;i++){
    const p0=q[(i-1+n)%n],p1=q[i],p2=q[(i+1)%n],p3=q[(i+2)%n];
    d+='C'+f(p1[0]+(p2[0]-p0[0])/6)+' '+f(p1[1]+(p2[1]-p0[1])/6)+' '+f(p2[0]-(p3[0]-p1[0])/6)+' '+f(p2[1]-(p3[1]-p1[1])/6)+' '+f(p2[0])+' '+f(p2[1]);
  }
  return d+'Z';
}

panels.forEach(function(p){
  const LEFT=97.6+p.ox, RIGHT=772.9+p.ox, BOTTOM=p.bottom, TOP=p.bottom-542.1;
  const BAR0=833+p.ox, BAR1=893+p.ox;
  const xScale=function(lat){return 434.7+p.ox+3.78*lat;};
  const yScale=function(h){return p.bottom-10.842*h;};
  const proj=function(a){return a.map(function(d){return [xScale(d[0]),yScale(d[1])];});};
  const cScale=function(v){return p.bottom-542.1*v/p.levels[p.levels.length-1];};

  const defs=mk('defs',svg);
  const cp=mk('clipPath',defs);
  cp.setAttribute('id','clip-'+p.id);
  const cr=mk('rect',cp);
  cr.setAttribute('x',LEFT);cr.setAttribute('y',TOP);cr.setAttribute('width',RIGHT-LEFT);cr.setAttribute('height',BOTTOM-TOP);

  const plot=mk('g',svg);
  plot.setAttribute('clip-path','url(#clip-'+p.id+')');
  
  

  p.bands.forEach(function(b){
    let d='';
    if(b.kind==='twin'){
      const u=proj(b.up), l=proj(b.low).reverse();
      d=smoothOpen(u,true)+smoothOpen(l,false)+'Z';
    }else if(b.kind==='loop'){
      d=smoothLoop(proj(b.pts));
    }else{
      const q=proj(b.pts);
      d=smoothOpen(q,true);
      if(b.kind==='top'){d+='L'+f(q[q.length-1][0])+' '+f(TOP-20)+'L'+f(q[0][0])+' '+f(TOP-20);}
      if(b.kind==='bottom'){d+='L'+f(q[q.length-1][0])+' '+f(BOTTOM+20)+'L'+f(q[0][0])+' '+f(BOTTOM+20);}
      d+='Z';
    }
    const el=mk('path',plot);
    el.setAttribute('d',d);
    el.setAttribute('fill',b.fill);
    
    
  });

  p.lines.forEach(function(segs,i){
    segs.forEach(function(seg,j){
      const el=mk('path',plot);
      el.setAttribute('d',smoothOpen(proj(seg),true));
      el.setAttribute('fill','none');
      el.setAttribute('stroke','#000');
      el.setAttribute('stroke-width','3.4');
      el.setAttribute('stroke-linejoin','round');
      el.setAttribute('stroke-linecap','round');
      
      
    });
  });

  p.text.forEach(function(t,i){
    const el=mk('text',plot);
    const x=xScale(p.lat[i]), y=yScale(p.h[i]);
    el.setAttribute('class','clabel');
    el.setAttribute('x',f(x));
    el.setAttribute('y',f(y));
    if(p.tilt[i]){el.setAttribute('transform','rotate('+p.tilt[i]+' '+f(x)+' '+f(y)+')');}
    el.textContent=t;
    
    
  });

  const frame=mk('rect',svg);
  frame.setAttribute('x',LEFT);frame.setAttribute('y',TOP);frame.setAttribute('width',RIGHT-LEFT);frame.setAttribute('height',BOTTOM-TOP);
  frame.setAttribute('fill','none');frame.setAttribute('stroke','#000');frame.setAttribute('stroke-width','3.2');
  
  

  heightTicks.forEach(function(v){
    const y=yScale(v);
    const tk=mk('line',svg);
    tk.setAttribute('x1',LEFT-17);tk.setAttribute('x2',LEFT);tk.setAttribute('y1',f(y));tk.setAttribute('y2',f(y));
    tk.setAttribute('stroke','#000');tk.setAttribute('stroke-width','3.2');
    
    
    const lb=mk('text',svg);
    lb.setAttribute('class','tick');lb.setAttribute('x',LEFT-31);lb.setAttribute('y',f(y+9));lb.setAttribute('text-anchor','end');
    lb.textContent=v;
    
    
  });
  latTicks.forEach(function(v){
    const x=xScale(v);
    const tk=mk('line',svg);
    tk.setAttribute('x1',f(x));tk.setAttribute('x2',f(x));tk.setAttribute('y1',BOTTOM);tk.setAttribute('y2',BOTTOM+16);
    tk.setAttribute('stroke','#000');tk.setAttribute('stroke-width','3.2');
    
    
    const lb=mk('text',svg);
    lb.setAttribute('class','tick');lb.setAttribute('x',f(x));lb.setAttribute('y',f(BOTTOM+54));lb.setAttribute('text-anchor','middle');
    lb.textContent=v;
    
    
  });

  p.colours.forEach(function(col,i){
    const y1=cScale(p.levels[i]), y0=cScale(p.levels[i+1]);
    const r=mk('rect',svg);
    r.setAttribute('x',BAR0);r.setAttribute('width',BAR1-BAR0);r.setAttribute('y',f(y0));r.setAttribute('height',f(y1-y0));
    r.setAttribute('fill',col);r.setAttribute('stroke','#000');r.setAttribute('stroke-width','3.2');
    
    
  });
  p.colorTicks.forEach(function(v){
    const y=cScale(v);
    const tk=mk('line',svg);
    tk.setAttribute('x1',BAR1);tk.setAttribute('x2',BAR1+16);tk.setAttribute('y1',f(y));tk.setAttribute('y2',f(y));
    tk.setAttribute('stroke','#000');tk.setAttribute('stroke-width','3.2');
    
    
    const lb=mk('text',svg);
    lb.setAttribute('class','tick');lb.setAttribute('x',BAR1+30);lb.setAttribute('y',f(y+9));
    lb.textContent=v;
    
    
  });
});
</script>
</body>
</html>
